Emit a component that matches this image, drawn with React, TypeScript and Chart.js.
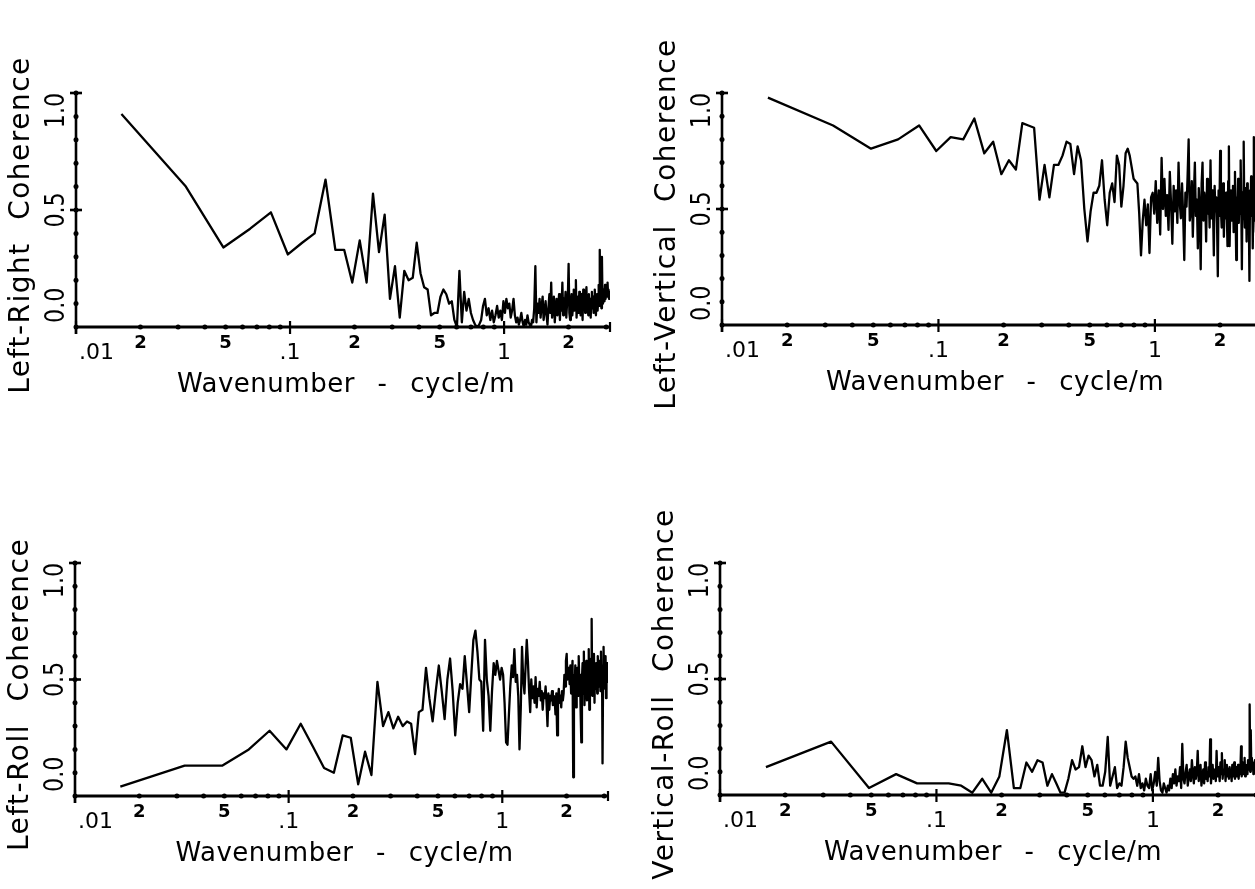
import React, { useEffect, useRef } from 'react';
import { Chart, registerables } from 'chart.js';

Chart.register(...registerables);

// Wavenumber of each spectral estimate (cycle/m)
const WAVENUMBER = [
  0.0163, 0.0326, 0.0488, 0.0651, 0.0814, 0.0977, 0.1139, 0.1302, 0.1465, 0.1628,
  0.1790, 0.1953, 0.2116, 0.2279, 0.2441, 0.2604, 0.2767, 0.2930, 0.3092, 0.3255,
  0.3418, 0.3581, 0.3743, 0.3906, 0.4069, 0.4232, 0.4395, 0.4557, 0.4720, 0.4883,
  0.5046, 0.5208, 0.5371, 0.5534, 0.5697, 0.5859, 0.6022, 0.6185, 0.6348, 0.6510,
  0.6673, 0.6836, 0.6999, 0.7161, 0.7324, 0.7487, 0.7650, 0.7813, 0.7975, 0.8138,
  0.8301, 0.8464, 0.8626, 0.8789, 0.8952, 0.9115, 0.9277, 0.9440, 0.9603, 0.9766,
  0.9928, 1.009, 1.025, 1.042, 1.058, 1.074, 1.090, 1.107, 1.123, 1.139,
  1.156, 1.172, 1.188, 1.204, 1.221, 1.237, 1.253, 1.270, 1.286, 1.302,
  1.318, 1.335, 1.351, 1.367, 1.383, 1.400, 1.416, 1.432, 1.449, 1.465,
  1.481, 1.497, 1.514, 1.530, 1.546, 1.563, 1.579, 1.595, 1.611, 1.628,
  1.644, 1.660, 1.676, 1.693, 1.709, 1.725, 1.742, 1.758, 1.774, 1.790,
  1.807, 1.823, 1.839, 1.855, 1.872, 1.888, 1.904, 1.921, 1.937, 1.953,
  1.969, 1.986, 2.002, 2.018, 2.035, 2.051, 2.067, 2.083, 2.100, 2.116,
  2.132, 2.148, 2.165, 2.181, 2.197, 2.214, 2.230, 2.246, 2.262, 2.279,
  2.295, 2.311, 2.327, 2.344, 2.360, 2.376, 2.393, 2.409, 2.425, 2.441,
  2.458, 2.474, 2.490, 2.507, 2.523, 2.539, 2.555, 2.572, 2.588, 2.604,
  2.620, 2.637, 2.653, 2.669, 2.686, 2.702, 2.718, 2.734, 2.751, 2.767,
  2.783, 2.799, 2.816, 2.832, 2.848, 2.865, 2.881, 2.897, 2.913, 2.930,
  2.946, 2.962, 2.979, 2.995, 3.011, 3.027, 3.044, 3.060, 3.076, 3.092,
  3.109, 3.125,
];

const LEFT_RIGHT = [
  0.91, 0.60, 0.34, 0.42, 0.49, 0.31, 0.36, 0.40, 0.63, 0.33,
  0.33, 0.19, 0.37, 0.19, 0.57, 0.32, 0.48, 0.12, 0.26, 0.04,
  0.24, 0.20, 0.21, 0.36, 0.23, 0.17, 0.16, 0.05, 0.06, 0.06,
  0.13, 0.16, 0.14, 0.10, 0.11, 0.03, 0.00, 0.24, 0.02, 0.15,
  0.07, 0.12, 0.06, 0.03, 0.01, 0.00, 0.01, 0.03, 0.09, 0.12,
  0.05, 0.08, 0.03, 0.07, 0.02, 0.05, 0.09, 0.04, 0.07, 0.03,
  0.11, 0.06, 0.12, 0.08, 0.10, 0.04, 0.07, 0.12, 0.05, 0.02,
  0.04, 0.01, 0.03, 0.06, 0.02, 0.00, 0.03, 0.01, 0.05, 0.02,
  0.01, 0.00, 0.03, 0.02, 0.08, 0.26, 0.02, 0.10, 0.06, 0.12,
  0.04, 0.09, 0.13, 0.03, 0.07, 0.11, 0.05, 0.01, 0.08, 0.14,
  0.06, 0.19, 0.04, 0.10, 0.13, 0.02, 0.08, 0.12, 0.05, 0.09,
  0.14, 0.03, 0.11, 0.07, 0.19, 0.05, 0.12, 0.08, 0.15, 0.04,
  0.10, 0.13, 0.27, 0.06, 0.03, 0.11, 0.14, 0.05, 0.09, 0.16,
  0.07, 0.12, 0.20, 0.04, 0.10, 0.13, 0.06, 0.15, 0.09, 0.05,
  0.14, 0.11, 0.03, 0.16, 0.08, 0.12, 0.06, 0.13, 0.17, 0.07,
  0.10, 0.05, 0.14, 0.09, 0.12, 0.04, 0.11, 0.15, 0.08, 0.13,
  0.06, 0.10, 0.16, 0.09, 0.05, 0.12, 0.14, 0.07, 0.11, 0.18,
  0.09, 0.33, 0.12, 0.15, 0.08, 0.30, 0.13, 0.10, 0.16, 0.11,
  0.14, 0.18, 0.12, 0.15, 0.17, 0.13, 0.19, 0.14, 0.16, 0.12,
  0.15, 0.14,
];

const LEFT_VERTICAL = [
  0.98, 0.86, 0.76, 0.80, 0.86, 0.75, 0.81, 0.80, 0.89, 0.74,
  0.79, 0.65, 0.71, 0.67, 0.87, 0.86, 0.85, 0.54, 0.69, 0.55,
  0.69, 0.69, 0.73, 0.79, 0.78, 0.65, 0.77, 0.71, 0.50, 0.36,
  0.49, 0.57, 0.57, 0.60, 0.71, 0.54, 0.43, 0.57, 0.61, 0.53,
  0.73, 0.69, 0.51, 0.60, 0.74, 0.76, 0.73, 0.68, 0.63, 0.62,
  0.61, 0.48, 0.30, 0.45, 0.54, 0.43, 0.52, 0.31, 0.55, 0.57,
  0.48, 0.62, 0.44, 0.58, 0.39, 0.72, 0.50, 0.63, 0.47, 0.56,
  0.41, 0.66, 0.52, 0.35, 0.60, 0.49, 0.58, 0.44, 0.70, 0.53,
  0.46, 0.61, 0.47, 0.28, 0.57, 0.51, 0.64, 0.80, 0.45, 0.49,
  0.62, 0.38, 0.56, 0.70, 0.47, 0.54, 0.33, 0.59, 0.50, 0.24,
  0.61, 0.70, 0.45, 0.57, 0.52, 0.36, 0.63, 0.48, 0.55, 0.42,
  0.71, 0.46, 0.58, 0.51, 0.30, 0.60, 0.49, 0.55, 0.44, 0.21,
  0.58, 0.47, 0.75, 0.50, 0.42, 0.56, 0.61, 0.38, 0.53, 0.46,
  0.57, 0.49, 0.34, 0.62, 0.77, 0.34, 0.51, 0.58, 0.45, 0.55,
  0.60, 0.40, 0.52, 0.66, 0.47, 0.28, 0.55, 0.50, 0.63, 0.44,
  0.56, 0.48, 0.71, 0.52, 0.24, 0.57, 0.46, 0.79, 0.50, 0.42,
  0.59, 0.53, 0.36, 0.61, 0.48, 0.55, 0.44, 0.19, 0.58, 0.51,
  0.64, 0.47, 0.56, 0.33, 0.52, 0.81, 0.45, 0.59, 0.50, 0.40,
  0.57, 0.62, 0.46, 0.55, 0.35, 0.60, 0.51, 0.48, 0.58, 0.53,
  0.49, 0.56,
];

const LEFT_ROLL = [
  0.04, 0.13, 0.13, 0.20, 0.28, 0.20, 0.31, 0.21, 0.12, 0.10,
  0.26, 0.25, 0.05, 0.19, 0.09, 0.49, 0.30, 0.36, 0.29, 0.34,
  0.30, 0.32, 0.31, 0.18, 0.36, 0.37, 0.55, 0.42, 0.32, 0.45,
  0.56, 0.45, 0.33, 0.50, 0.59, 0.45, 0.26, 0.40, 0.48, 0.46,
  0.60, 0.48, 0.36, 0.52, 0.67, 0.71, 0.62, 0.50, 0.49, 0.28,
  0.67, 0.50, 0.43, 0.28, 0.45, 0.57, 0.52, 0.58, 0.54, 0.50,
  0.55, 0.52, 0.40, 0.23, 0.22, 0.35, 0.47, 0.56, 0.51, 0.63,
  0.49, 0.52, 0.43, 0.20, 0.38, 0.64, 0.50, 0.44, 0.56, 0.67,
  0.58, 0.45, 0.36, 0.50, 0.42, 0.47, 0.40, 0.51, 0.38, 0.46,
  0.43, 0.49, 0.41, 0.45, 0.37, 0.44, 0.42, 0.47, 0.40, 0.30,
  0.44, 0.37, 0.43, 0.41, 0.45, 0.39, 0.43, 0.42, 0.35, 0.44,
  0.26, 0.42, 0.46, 0.40, 0.43, 0.38, 0.45, 0.41, 0.44, 0.52,
  0.47, 0.58, 0.61, 0.50, 0.55, 0.53, 0.48, 0.56, 0.44, 0.50,
  0.58, 0.08, 0.52, 0.46, 0.56, 0.38, 0.49, 0.55, 0.43, 0.60,
  0.47, 0.52, 0.36, 0.23, 0.50, 0.57, 0.44, 0.62, 0.39, 0.53,
  0.46, 0.58, 0.41, 0.55, 0.49, 0.63, 0.37, 0.52, 0.45, 0.59,
  0.76, 0.43, 0.54, 0.48, 0.61, 0.40, 0.55, 0.46, 0.57, 0.50,
  0.44, 0.60, 0.52, 0.47, 0.58, 0.53, 0.45, 0.62, 0.50, 0.56,
  0.14, 0.48, 0.64, 0.51, 0.55, 0.46, 0.60, 0.42, 0.53, 0.57,
  0.49, 0.52,
];

const VERTICAL_ROLL = [
  0.12, 0.23, 0.03, 0.09, 0.05, 0.05, 0.05, 0.04, 0.01, 0.07,
  0.01, 0.08, 0.28, 0.03, 0.03, 0.14, 0.10, 0.15, 0.14, 0.04,
  0.09, 0.05, 0.01, 0.01, 0.07, 0.15, 0.11, 0.12, 0.21, 0.12,
  0.17, 0.15, 0.08, 0.13, 0.04, 0.04, 0.10, 0.25, 0.04, 0.08,
  0.12, 0.03, 0.05, 0.04, 0.12, 0.23, 0.16, 0.12, 0.08, 0.07,
  0.08, 0.04, 0.09, 0.03, 0.05, 0.02, 0.07, 0.04, 0.03, 0.09,
  0.02, 0.05, 0.10, 0.04, 0.16, 0.06, 0.02, 0.01, 0.05, 0.03,
  0.01, 0.04, 0.02, 0.07, 0.03, 0.09, 0.05, 0.11, 0.04, 0.08,
  0.06, 0.12, 0.03, 0.22, 0.07, 0.05, 0.10, 0.13, 0.04, 0.08,
  0.11, 0.06, 0.15, 0.09, 0.05, 0.12, 0.07, 0.10, 0.19, 0.06,
  0.09, 0.13, 0.04, 0.08, 0.11, 0.05, 0.14, 0.07, 0.10, 0.06,
  0.12, 0.08, 0.24, 0.05, 0.10, 0.13, 0.07, 0.09, 0.11, 0.06,
  0.19, 0.08, 0.12, 0.10, 0.06, 0.14, 0.09, 0.18, 0.07, 0.11,
  0.09, 0.15, 0.06, 0.10, 0.13, 0.08, 0.11, 0.07, 0.12, 0.09,
  0.10, 0.06, 0.13, 0.08, 0.11, 0.14, 0.07, 0.09, 0.12, 0.08,
  0.10, 0.13, 0.07, 0.11, 0.09, 0.12, 0.21, 0.08, 0.10, 0.14,
  0.09, 0.11, 0.16, 0.08, 0.12, 0.10, 0.13, 0.09, 0.15, 0.11,
  0.12, 0.39, 0.10, 0.28, 0.13, 0.16, 0.11, 0.14, 0.09, 0.13,
  0.12, 0.15, 0.10, 0.14, 0.11, 0.13, 0.12, 0.16, 0.10, 0.14,
  0.12, 0.13,
];

const X_MIN = 0.01;
const X_MAX = 3.125;
const X_MAJOR_TICKS = [0.01, 0.1, 1];
const X_MINOR_TICKS = [
  0.02, 0.03, 0.04, 0.05, 0.06, 0.07, 0.08, 0.09,
  0.2, 0.3, 0.4, 0.5, 0.6, 0.7, 0.8, 0.9, 2, 3,
];
const X_LABEL_VALUES = [0.01, 0.02, 0.05, 0.1, 0.2, 0.5, 1, 2];
const X_LABEL_TEXT = ['.01', '2', '5', '.1', '2', '5', '1', '2'];
const Y_TICKS = [0, 0.1, 0.2, 0.3, 0.4, 0.5, 0.6, 0.7, 0.8, 0.9, 1.0];
const Y_MAJOR_TICKS = [0.5, 1.0];
const Y_LABEL_VALUES = [0, 0.5, 1.0];
const Y_LABEL_TEXT = ['0.0', '0.5', '1.0'];
const X_TITLE = 'Wavenumber - cycle/m';
const PANEL_TITLES = [
  'Left-Right Coherence',
  'Left-Vertical Coherence',
  'Left-Roll Coherence',
  'Vertical-Roll Coherence',
];
const PANEL_SERIES = [LEFT_RIGHT, LEFT_VERTICAL, LEFT_ROLL, VERTICAL_ROLL];

// layout of each panel: canvas box and plot-area padding inside it
const PANEL_LAYOUT = [
  { left: 0, top: 0, w: 628, h: 445, pad: { left: 76, top: 93, right: 18, bottom: 118 } },
  { left: 628, top: 0, w: 640, h: 445, pad: { left: 94, top: 93, right: 6, bottom: 120 } },
  { left: 0, top: 445, w: 628, h: 444, pad: { left: 75, top: 118, right: 20, bottom: 93 } },
  { left: 628, top: 445, w: 640, h: 444, pad: { left: 92, top: 118, right: 8, bottom: 94 } },
];

const INK = '#000';
const FONT = '"DejaVu Sans", "Liberation Sans", sans-serif';

const plotterAxes = {
  id: 'plotterAxes',
  afterDraw(chart: any, _args: any, opts: any) {
    const { ctx, chartArea, scales } = chart;
    const { left, right, top, bottom } = chartArea;
    const xs = scales.x;
    const ys = scales.y;
    ctx.save();
    ctx.strokeStyle = INK;
    ctx.fillStyle = INK;
    ctx.lineCap = 'butt';

    // y axis line
    ctx.lineWidth = 2.6;
    ctx.beginPath();
    ctx.moveTo(left, bottom + 7);
    ctx.lineTo(left, top);
    ctx.stroke();
    // x axis line
    ctx.lineWidth = 3.2;
    ctx.beginPath();
    ctx.moveTo(left - 1, bottom);
    ctx.lineTo(right, bottom);
    ctx.stroke();

    // y tick dots
    for (const v of Y_TICKS) {
      const py = ys.getPixelForValue(v);
      ctx.beginPath();
      ctx.arc(left, py, 2.5, 0, Math.PI * 2);
      ctx.fill();
    }
    // y major caps
    ctx.lineWidth = 2.6;
    for (const v of Y_MAJOR_TICKS) {
      const py = ys.getPixelForValue(v);
      ctx.beginPath();
      ctx.moveTo(left - 6, py);
      ctx.lineTo(left + 6, py);
      ctx.stroke();
    }
    // x minor dots
    for (const v of X_MINOR_TICKS) {
      const px = xs.getPixelForValue(v);
      ctx.beginPath();
      ctx.arc(px, bottom, 2.5, 0, Math.PI * 2);
      ctx.fill();
    }
    // x major ticks
    ctx.lineWidth = 2.2;
    for (const v of X_MAJOR_TICKS) {
      const px = xs.getPixelForValue(v);
      ctx.beginPath();
      ctx.moveTo(px, bottom - 6);
      ctx.lineTo(px, bottom + 7);
      ctx.stroke();
    }
    // right end cap
    ctx.beginPath();
    ctx.moveTo(right, bottom - 5);
    ctx.lineTo(right, bottom + 5);
    ctx.stroke();

    // x tick labels
    ctx.textBaseline = 'middle';
    X_LABEL_VALUES.forEach((v, i) => {
      const px = xs.getPixelForValue(v);
      const decade = X_MAJOR_TICKS.includes(v);
      if (decade) {
        ctx.font = `22px ${FONT}`;
        ctx.textAlign = v === X_MIN ? 'left' : 'center';
        ctx.fillText(X_LABEL_TEXT[i], v === X_MIN ? px + 3 : px, bottom + 26);
      } else {
        ctx.font = `bold 18px ${FONT}`;
        ctx.textAlign = 'center';
        ctx.fillText(X_LABEL_TEXT[i], px, bottom + 16);
      }
    });

    // y tick labels (rotated, slightly condensed)
    Y_LABEL_VALUES.forEach((v, i) => {
      const py = ys.getPixelForValue(v);
      ctx.save();
      ctx.translate(left - 19, py);
      ctx.rotate(-Math.PI / 2);
      ctx.scale(0.82, 1);
      ctx.font = `27px ${FONT}`;
      ctx.textBaseline = 'middle';
      if (i === 0) {
        ctx.textAlign = 'left';
        ctx.fillText(Y_LABEL_TEXT[i], 5, 0);
      } else if (i === Y_LABEL_VALUES.length - 1) {
        ctx.textAlign = 'right';
        ctx.fillText(Y_LABEL_TEXT[i], 0, 0);
      } else {
        ctx.textAlign = 'center';
        ctx.fillText(Y_LABEL_TEXT[i], 0, 0);
      }
      ctx.restore();
    });

    // x title
    ctx.save();
    ctx.font = `26px ${FONT}`;
    (ctx as any).letterSpacing = '0.5px';
    (ctx as any).wordSpacing = '14px';
    ctx.textAlign = 'center';
    ctx.textBaseline = 'middle';
    ctx.fillText(X_TITLE, (left + right) / 2 + 3, bottom + 58);
    ctx.restore();

    // y title
    ctx.save();
    ctx.translate(left - 54, (top + bottom) / 2 + 15);
    ctx.rotate(-Math.PI / 2);
    ctx.font = `28px ${FONT}`;
    (ctx as any).letterSpacing = '1.5px';
    (ctx as any).wordSpacing = '12px';
    ctx.textAlign = 'center';
    ctx.textBaseline = 'middle';
    ctx.fillText(opts.title, 0, 0);
    ctx.restore();

    ctx.restore();
  },
};

function Panel({ index }: { index: number }) {
  const ref = useRef<HTMLCanvasElement>(null);
  const lay = PANEL_LAYOUT[index];
  useEffect(() => {
    const series = PANEL_SERIES[index];
    const chart = new Chart(ref.current!, {
      type: 'line',
      data: {
        datasets: [
          {
            data: WAVENUMBER.map((x, i) => ({ x, y: series[i] })),
            borderColor: INK,
            borderWidth: 2.3,
            pointRadius: 0,
            tension: 0,
            fill: false,
            borderJoinStyle: 'round',
          },
        ],
      },
      options: {
        responsive: false,
        animation: false,
        devicePixelRatio: 1,
        layout: { padding: lay.pad },
        scales: {
          x: { type: 'logarithmic', min: X_MIN, max: X_MAX, display: false },
          y: { type: 'linear', min: 0, max: 1, display: false },
        },
        plugins: {
          legend: { display: false },
          tooltip: { enabled: false },
          plotterAxes: { title: PANEL_TITLES[index] },
        } as any,
      },
      plugins: [plotterAxes],
    });
    return () => chart.destroy();
  }, [index]);
  return (
    <canvas
      ref={ref}
      width={lay.w}
      height={lay.h}
      style={{ position: 'absolute', left: lay.left, top: lay.top, width: lay.w, height: lay.h }}
    />
  );
}

export default function App() {
  return (
    <div
      style={{
        position: 'fixed',
        left: 0,
        top: 0,
        width: 1255,
        height: 889,
        overflow: 'hidden',
        background: '#fff',
      }}
    >
      {PANEL_TITLES.map((t, i) => (
        <Panel key={t} index={i} />
      ))}
    </div>
  );
}
